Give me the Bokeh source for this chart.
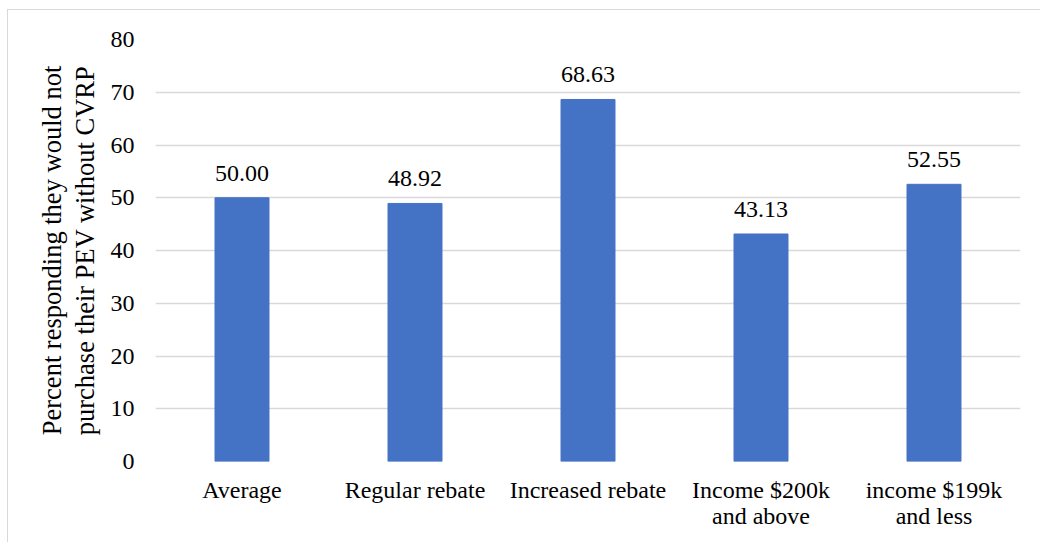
from bokeh.plotting import figure
from bokeh.models import ColumnDataSource, FactorRange, Range1d, FixedTicker
from bokeh.core.properties import value
from bokeh.embed import file_html
from bokeh.resources import INLINE

# Survey results: share who would not have bought their PEV without the CVRP rebate
categories = ["Average", "Regular rebate", "Increased rebate",
              "Income $200k\nand above", "income $199k\nand less"]
percent = [50.00, 48.92, 68.63, 43.13, 52.55]
y_ticks = [0, 10, 20, 30, 40, 50, 60, 70, 80]

FONT = "Liberation Serif"
FS = "24px"
TITLE_FS = "26.5px"
GRID = "#d9d9d9"
BAR = "#4472C4"

source = ColumnDataSource(data=dict(
    cat=categories,
    val=percent,
    txt=[f"{v:.2f}" for v in percent],
))

p = figure(
    x_range=FactorRange(*categories, range_padding=0.0),
    y_range=Range1d(0, 80),
    width=1033, height=533,
    output_backend="svg", toolbar_location=None,
    min_border_left=147, min_border_right=21,
    min_border_top=29, min_border_bottom=82,
)
p.margin = (9, 0, 0, 7)
p.styles = {"border-top": f"1px solid {GRID}", "border-left": f"1px solid {GRID}"}
p.outline_line_color = None
p.background_fill_color = "white"
p.border_fill_color = "white"

p.vbar(x="cat", top="val", width=0.312, source=source,
       fill_color=BAR, line_color=BAR)

p.text(x="cat", y="val", text="txt", source=source,
       text_align="center", text_baseline="bottom",
       y_offset=-17, text_font=value(FONT), text_font_size=FS,
       text_color="#000000")

# gridlines
p.xgrid.grid_line_color = None
p.ygrid.grid_line_color = GRID
p.ygrid.grid_line_width = 1.3
p.ygrid.ticker = FixedTicker(ticks=y_ticks)

# y axis
ya = p.yaxis[0]
ya.ticker = FixedTicker(ticks=y_ticks)
ya.axis_line_color = None
ya.major_tick_line_color = None
ya.minor_tick_line_color = None
ya.major_tick_out = 0
ya.major_label_standoff = 21
ya.major_label_text_font = FONT
ya.major_label_text_font_size = FS
ya.major_label_text_color = "#000000"
ya.axis_label = "Percent responding they would not\npurchase their PEV without CVRP"
ya.axis_label_text_font = FONT
ya.axis_label_text_font_size = TITLE_FS
ya.axis_label_text_font_style = "normal"
ya.axis_label_text_color = "#000000"
ya.axis_label_text_line_height = 1.08
ya.axis_label_standoff = 8

# x axis
xa = p.xaxis[0]
xa.axis_line_color = None
xa.major_tick_line_color = None
xa.minor_tick_line_color = None
xa.major_tick_out = 0
xa.major_label_standoff = 15
xa.major_label_text_font = FONT
xa.major_label_text_font_size = FS
xa.major_label_text_color = "#000000"
xa.major_label_text_line_height = 1.0
xa.major_label_orientation = "horizontal"

open("out.html", "w").write(file_html(p, INLINE))
